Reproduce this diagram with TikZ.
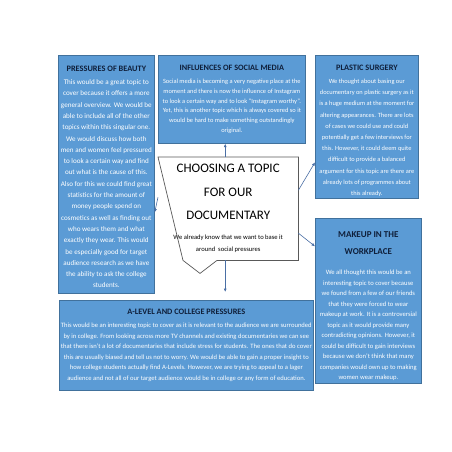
\documentclass[tikz,border=0pt]{standalone}
\usepackage{fontspec}
\setmainfont{Carlito}
\usetikzlibrary{arrows.meta,calc}
\definecolor{boxfill}{HTML}{5B9BD5}
\definecolor{boxline}{HTML}{41719C}
\definecolor{titlec}{HTML}{0F1F3A}
\definecolor{arrowc}{HTML}{4A6FA5}
\definecolor{callline}{HTML}{595959}
\begin{document}
\begin{tikzpicture}[x=1pt,y=-1pt,
  topicbox/.style={draw=boxline,fill=boxfill,line width=0.7pt,anchor=north west,
    align=center,text=white,inner sep=1pt},
  conn/.style={draw=arrowc,line width=0.6pt,-{Latex[length=3.5pt,width=3pt]}},
  callline/.style={draw=callline,line width=0.7pt,line join=miter}]
\fill[white] (0,0) rectangle (452,452);
\useasboundingbox (0,0) rectangle (452,452);

\node[topicbox,minimum width=96pt,minimum height=238pt,
  font=\fontsize{7.1}{11.3}\selectfont] (bb) at (58,55)
  {\rule{0pt}{11.2pt}{\fontsize{8.3}{8.3}\selectfont\bfseries\color{titlec}PRESSURES OF BEAUTY}\\[1.3pt]
  This would be a great topic to\\
  cover because it offers a more\\
  general overview. We would be\\
  able to include all of the other\\
  topics within this singular one.\\
  We would discuss how both\\
  men and women feel pressured\\
  to look a certain way and find\\
  out what is the cause of this.\\
  Also for this we could find great\\
  statistics for the amount of\\
  money people spend on\\
  cosmetics as well as finding out\\
  who wears them and what\\
  exactly they wear. This would\\
  be especially good for target\\
  audience research as we have\\
  the ability to ask the college\\
  students.};

\node[topicbox,minimum width=147pt,minimum height=88pt,
  font=\fontsize{6.4}{9.7}\selectfont] (sm) at (158,55)
  {{\fontsize{8.2}{8.2}\selectfont\bfseries\color{titlec}INFLUENCES OF SOCIAL MEDIA}\\[3.3pt]
  Social media is becoming a very negative place at the\\
  moment and there is now the influence of Instagram\\
  to look a certain way and to look ``Instagram worthy''.\\
  Yet, this is another topic which is always covered so it\\
  would be hard to make something outstandingly\\
  original.};

\node[topicbox,minimum width=103pt,minimum height=143pt,
  font=\fontsize{6.4}{11.2}\selectfont] (ps) at (315,55)
  {\rule{0pt}{13.2pt}{\fontsize{8.3}{8.3}\selectfont\bfseries\color{titlec}PLASTIC SURGERY}\\[1.8pt]
  We thought about basing our\\
  documentary on plastic surgery as it\\
  is a huge medium at the moment for\\
  altering appearances. There are lots\\
  of cases we could use and could\\
  potentially get a few interviews for\\
  this. However, it could deem quite\\
  difficult to provide a balanced\\
  argument for this topic are there are\\
  already lots of programmes about\\
  this already.};

\node[topicbox,minimum width=106pt,minimum height=165pt,
  font=\fontsize{6.6}{10.5}\selectfont] (mk) at (315,218)
  {\rule{0pt}{15.9pt}{\fontsize{9}{9}\selectfont\bfseries\color{titlec}MAKEUP IN THE}\\[7pt]
  {\fontsize{9}{9}\selectfont\bfseries\color{titlec}WORKPLACE}\\[9.5pt]
  We all thought this would be an\\
  interesting topic to cover because\\
  we found from a few of our friends\\
  that they were forced to wear\\
  makeup at work. It is a controversial\\
  topic as it would provide many\\
  contradicting opinions. However, it\\
  could be difficult to gain interviews\\
  because we don't think that many\\
  companies would own up to making\\
  women wear makeup.};

\node[topicbox,minimum width=254pt,minimum height=90pt,
  font=\fontsize{6.6}{10.6}\selectfont] (al) at (59,300)
  {{\fontsize{8.3}{8.3}\selectfont\bfseries\color{titlec}A-LEVEL AND COLLEGE PRESSURES}\\[2.3pt]
  This would be an interesting topic to cover as it is relevant to the audience we are surrounded\\
  by in college. From looking across more TV channels and existing documentaries we can see\\
  that there isn't a lot of documentaries that include stress for students. The ones that do cover\\
  this are usually biased and tell us not to worry. We would be able to gain a proper insight to\\
  how college students actually find A-Levels. However, we are trying to appeal to a lager\\
  audience and not all of our target audience would be in college or any form of education.};

\node[anchor=north west,minimum width=140pt,minimum height=103pt,inner sep=1pt,
  align=center,text=black,font=\fontsize{6.6}{11}\selectfont] (c) at (158,157)
  {{\fontsize{13}{13}\selectfont CHOOSING A TOPIC}\\[12.5pt]
  {\fontsize{13}{13}\selectfont FOR OUR}\\[12pt]
  {\fontsize{13}{13}\selectfont DOCUMENTARY}\\[9pt]
  We already know that we want to base it\\[1.5pt]
  around\ \ social pressures};
\coordinate (tip) at ($(c.south west)+(42,13)$);
\draw[callline] (c.north west) -- (c.north east) -- (c.south east)
  -- ([xshift=59pt]c.south west) -- (tip) -- ([xshift=25pt]c.south west) -- cycle;

\draw[conn] ([xshift=-3pt]c.north) -- ([xshift=-3pt]c.north |- sm.south);
\draw[conn] ([yshift=11.5pt]c.west) -- ([yshift=-38pt]bb.east);
\draw[conn] ([yshift=18.5pt]c.east) -- ([yshift=-35.5pt]ps.west);
\draw[conn] ([yshift=-24.5pt]c.east) -- ([yshift=54.5pt]mk.west);
\coordinate (bt) at ($([xshift=-3pt]c.south |- al.north)+(0,-8)$);
\draw[conn] ([xshift=-3pt]c.south) -- (bt);
\end{tikzpicture}
\end{document}
